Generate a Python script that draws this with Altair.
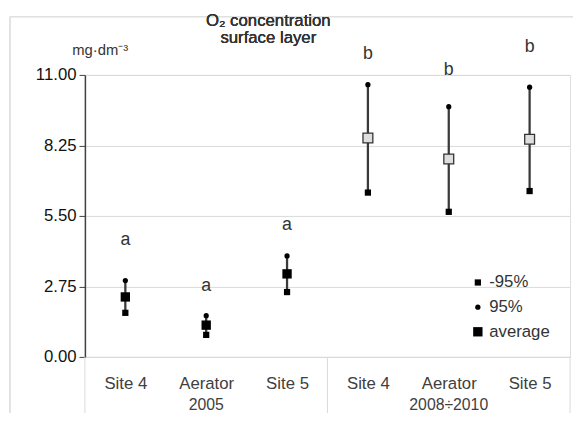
import altair as alt
import pandas as pd

sites = ["Site 4", "Aerator", "Site 5", "Site 4", "Aerator", "Site 5"]
periods = ["2005", "2005", "2005", "2008÷2010", "2008÷2010", "2008÷2010"]
period_names = ["2005", "2008÷2010"]
low95 = [1.72, 0.86, 2.53, 6.41, 5.66, 6.47]
average = [2.34, 1.24, 3.24, 8.54, 7.72, 8.49]
high95 = [2.98, 1.61, 3.94, 10.62, 9.76, 10.52]
letters = ["a", "a", "a", "b", "b", "b"]
letter_y = [4.56, 2.78, 5.13, 11.8, 11.2, 12.1]
y_ticks = [0, 2.75, 5.5, 8.25, 11]
stats = ["-95%", "95%", "average"]
title_lines = ["O₂ concentration", "surface layer"]

FONT = "Liberation Sans"
pos = [i + 0.5 for i in range(len(sites))]

base_df = pd.DataFrame({"pos": pos, "site": sites, "period": periods,
                        "low": low95, "avg": average, "high": high95,
                        "letter": letters, "ly": letter_y})

long_rows = []
for i in range(len(sites)):
    for stat, vals in zip(stats, (low95, high95, average)):
        long_rows.append({"pos": pos[i], "period": periods[i], "stat": stat, "value": vals[i]})
long_df = pd.DataFrame(long_rows)

xscale = alt.Scale(domain=[0, 6], nice=False, zero=False)
yscale = alt.Scale(domain=[0, 11], nice=False)

xaxis = alt.Axis(values=pos, labelExpr="['Site 4','Aerator','Site 5','Site 4','Aerator','Site 5'][floor(datum.value)]",
                 grid=False, ticks=False, domain=True, domainColor="#d9d9d9",
                 labelFont=FONT, labelFontSize=17, labelColor="#404040", labelPadding=19,
                 title=None)
yaxis = alt.Axis(values=y_ticks, format=".2f", grid=True, gridColor="#d9d9d9",
                 domainColor="#404040", domainWidth=1.5, tickColor="#404040", tickSize=6,
                 labelFont=FONT, labelFontSize=17, labelColor="#111", labelPadding=3,
                 title="mg·dm⁻³", titleAngle=0, titleX=15, titleY=-26, titleAlign="center",
                 titleBaseline="middle", titleFont=FONT, titleFontSize=15, titleFontWeight="normal",
                 titleColor="#333")

base = alt.Chart(base_df)

errs = base.mark_rule(color="#3a3a3a", strokeWidth=2.3).encode(
    x=alt.X("pos:Q", scale=xscale, axis=xaxis),
    y=alt.Y("low:Q", scale=yscale, axis=yaxis),
    y2="high:Q",
)

legend = alt.Legend(title=None, orient="none", legendX=390, legendY=202,
                    labelFont=FONT, labelFontSize=17, labelColor="#333",
                    rowPadding=7, labelOffset=3, padding=0)

points = alt.Chart(long_df).transform_filter(
    "datum.period == '2005' || datum.stat != 'average'"
).mark_point(filled=True, opacity=1, color="black").encode(
    x=alt.X("pos:Q", scale=xscale),
    y=alt.Y("value:Q", scale=yscale),
    shape=alt.Shape("stat:N", scale=alt.Scale(domain=stats, range=["square", "circle", "square"]),
                    legend=legend),
    size=alt.Size("stat:N", scale=alt.Scale(type="ordinal", domain=stats, range=[40, 28, 90]),
                  legend=legend),
)

avg_open = alt.Chart(long_df).transform_filter(
    "datum.period != '2005' && datum.stat == 'average'"
).mark_point(shape="square", size=100, filled=True, opacity=1, fill="#dedede",
             stroke="#333", strokeWidth=1.3).encode(
    x=alt.X("pos:Q", scale=xscale),
    y=alt.Y("value:Q", scale=yscale),
)

letter_marks = base.mark_text(font=FONT, fontSize=18, color="#333", baseline="middle").encode(
    x=alt.X("pos:Q", scale=xscale),
    y=alt.Y("ly:Q", scale=yscale),
    text="letter:N",
)

year_df = pd.DataFrame({"period": period_names, "pos": [1.5, 4.5], "yy": [-1.88, -1.88]})
year_marks = alt.Chart(year_df).mark_text(font=FONT, fontSize=16, color="#404040", baseline="middle").encode(
    x=alt.X("pos:Q", scale=xscale),
    y=alt.Y("yy:Q", scale=yscale),
    text="period:N",
)

sep_df = pd.DataFrame({"pos": [0, 3, 6], "y0": [0, 0, 0], "y1": [-3, -3, -3]})
seps = alt.Chart(sep_df).mark_rule(color="#d9d9d9", strokeWidth=1).encode(
    x=alt.X("pos:Q", scale=xscale),
    y=alt.Y("y0:Q", scale=yscale),
    y2="y1:Q",
)

frame_left = alt.Chart(sep_df).mark_rule(color="#e0e0e0", strokeWidth=1).encode(
    x=alt.value(-76), y=alt.value(-59), y2=alt.value(400))
frame_top = alt.Chart(sep_df).mark_rule(color="#e0e0e0", strokeWidth=1).encode(
    x=alt.value(-76), x2=alt.value(500), y=alt.value(-59))

title1 = alt.Chart(sep_df).mark_text(font=FONT, fontSize=17, color="#333", baseline="middle",
                                     align="center").encode(
    x=alt.value(186), y=alt.value(-55), text=alt.value(title_lines[0]))
title2 = alt.Chart(sep_df).mark_text(font=FONT, fontSize=17, color="#333", baseline="middle",
                                     align="center").encode(
    x=alt.value(186), y=alt.value(-37), text=alt.value(title_lines[1]))

chart = alt.layer(frame_left, frame_top, seps, errs, points, avg_open, letter_marks,
                  year_marks, title1, title2).properties(
    width=492, height=286,
    padding={"left": 78, "top": 65, "right": 3, "bottom": 54},
    autosize=alt.AutoSizeParams(type="none"),
).configure_view(stroke=None).configure(background="white")

chart.save("out.html", embed_options={"renderer": "svg", "actions": False})
